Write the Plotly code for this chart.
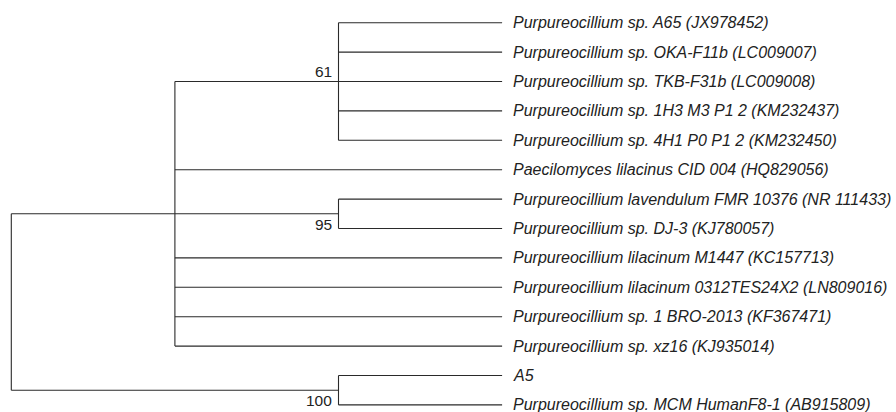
import plotly.graph_objects as go

# ---- data ----
taxa = [
    "Purpureocillium sp. A65 (JX978452)",
    "Purpureocillium sp. OKA-F11b (LC009007)",
    "Purpureocillium sp. TKB-F31b (LC009008)",
    "Purpureocillium sp. 1H3 M3 P1 2 (KM232437)",
    "Purpureocillium sp. 4H1 P0 P1 2 (KM232450)",
    "Paecilomyces lilacinus CID 004 (HQ829056)",
    "Purpureocillium lavendulum FMR 10376 (NR 111433)",
    "Purpureocillium sp. DJ-3 (KJ780057)",
    "Purpureocillium lilacinum M1447 (KC157713)",
    "Purpureocillium lilacinum 0312TES24X2 (LN809016)",
    "Purpureocillium sp. 1 BRO-2013 (KF367471)",
    "Purpureocillium sp. xz16 (KJ935014)",
    "A5",
    "Purpureocillium sp. MCM HumanF8-1 (AB915809)",
]
leaf_parent = ["c61", "c61", "c61", "c61", "c61", "main", "c95", "c95",
               "main", "main", "main", "main", "c100", "c100"]
leaf_depth = 3

node_names = ["root", "main", "c61", "c95", "c100"]
node_parent = [None, "root", "main", "main", "root"]
node_depth = [0, 1, 2, 2, 2]
node_support = [None, None, 61, 95, 100]
support_side = [None, None, "above", "below", "below"]

# ---- layout of tree ----
pos_y = {f"leaf{i}": i for i in range(len(taxa))}
pos_x = {f"leaf{i}": leaf_depth for i in range(len(taxa))}
children = {n: [] for n in node_names}
for i, p in enumerate(leaf_parent):
    children[p].append(f"leaf{i}")
for n, p in zip(node_names, node_parent):
    if p is not None:
        children[p].append(n)
for n, d in zip(node_names, node_depth):
    pos_x[n] = d


def gety(n):
    if n in pos_y:
        return pos_y[n]
    ys = [gety(c) for c in children[n]]
    pos_y[n] = (min(ys) + max(ys)) / 2
    return pos_y[n]


for n in node_names:
    gety(n)

xs, ys = [], []
for n in node_names:
    cy = [pos_y[c] for c in children[n]]
    xs += [pos_x[n], pos_x[n], None]
    ys += [min(cy), max(cy), None]
    for c in children[n]:
        xs += [pos_x[n], pos_x[c], None]
        ys += [pos_y[c], pos_y[c], None]

LINE = "#2a2a2a"
fig = go.Figure()
fig.add_trace(go.Scatter(x=xs, y=ys, mode="lines",
                         line=dict(color=LINE, width=1.1),
                         hoverinfo="skip", showlegend=False))

FONT = "Liberation Sans, Arial, Helvetica, sans-serif"
for i, t in enumerate(taxa):
    fig.add_annotation(x=leaf_depth, y=i, text=f"<i>{t}</i>", showarrow=False,
                       xanchor="left", yanchor="middle", xshift=9, yshift=0,
                       font=dict(family=FONT, size=16, color="#222"))

for n, s, side in zip(node_names, node_support, support_side):
    if s is None:
        continue
    fig.add_annotation(x=pos_x[n], y=pos_y[n], text=str(s), showarrow=False,
                       xanchor="right",
                       yanchor="bottom" if side == "above" else "top",
                       xshift=-5, yshift=0,
                       font=dict(family=FONT, size=15.5, color="#222"))

px_per_unit = 163.6
x0_px = 11.3
y0_px = 22.7
row_px = 29.4
fig.update_xaxes(range=[-x0_px / px_per_unit, (896 - x0_px) / px_per_unit],
                 visible=False, fixedrange=True)
fig.update_yaxes(range=[(412 - y0_px) / row_px, -y0_px / row_px],
                 visible=False, fixedrange=True)
fig.update_layout(width=896, height=412, margin=dict(l=0, r=0, t=0, b=0),
                  plot_bgcolor="white", paper_bgcolor="white")
fig.write_html("out.html", config={"displayModeBar": False, "staticPlot": True},
               post_script="document.body.style.margin='0px';document.body.style.overflow='hidden';")
